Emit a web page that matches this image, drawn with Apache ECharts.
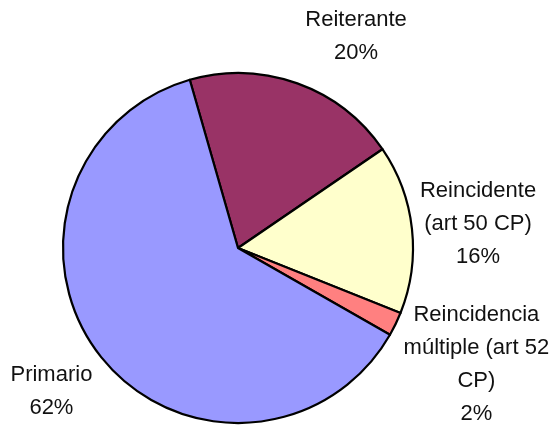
<!DOCTYPE html>
<html>
<head>
<meta charset="utf-8">
<script src="https://cdn.jsdelivr.net/npm/echarts@6/dist/echarts.min.js"></script>
<style>
html,body{margin:0;padding:0;background:#fff;}
#chart{width:559px;height:428px;}
</style>
</head>
<body>
<div id="chart"></div>
<script>
// Categories (clockwise from the Primario/Reiterante boundary)
var categories = ['Reiterante', 'Reincidente\n(art 50 CP)', 'Reincidencia\nmúltiple (art 52\nCP)', 'Primario'];
// Shares (%)
var values = [19.9, 15.6, 2.2, 62.3];
var colors = ['#993366', '#FFFFCC', '#FF8080', '#9999FF'];

var CX = 238, CY = 248, R = 175, START = 106; // start angle in ECharts degrees
var total = values.reduce(function (a, b) { return a + b; }, 0);

function midAngle(i) {
  // clockwise degrees from 12 o'clock
  var before = 0;
  for (var k = 0; k < i; k++) before += values[k];
  var startCw = 90 - START;
  return startCw + (before + values[i] / 2) / total * 360;
}

var chart = echarts.init(document.getElementById('chart'), null, { renderer: 'canvas' });
var FONT = "'Liberation Sans', Arial, sans-serif";

chart.setOption({
  animation: false,
  backgroundColor: '#ffffff',
  series: [{
    type: 'pie',
    center: [CX, CY],
    radius: [0, R],
    startAngle: START,
    clockwise: true,
    avoidLabelOverlap: false,
    data: categories.map(function (c, i) {
      return { name: c, value: values[i], itemStyle: { color: colors[i] } };
    }),
    itemStyle: { borderColor: '#000', borderWidth: 2.2 },
    label: {
      show: true,
      position: 'outside',
      color: '#111',
      fontFamily: FONT,
      fontSize: 22,
      lineHeight: 33,
      formatter: function (p) { return p.name + '\n' + Math.round(p.percent) + '%'; }
    },
    labelLine: { show: false },
    emphasis: { disabled: true },
    labelLayout: function (params) {
      var a = midAngle(params.dataIndex) * Math.PI / 180;
      var s = Math.sin(a), c = Math.cos(a);
      var px = CX + R * s, py = CY - R * c;
      var w = params.labelRect.width, h = params.labelRect.height;
      var gap = 8, g = 20;
      var x = s >= 0 ? px + gap + w / 2 : px - gap - w / 2;
      var y = py - c * (h / 2 + g) + 3;
      return { x: x, y: y, align: 'center', verticalAlign: 'middle' };
    }
  }]
});
</script>
</body>
</html>
